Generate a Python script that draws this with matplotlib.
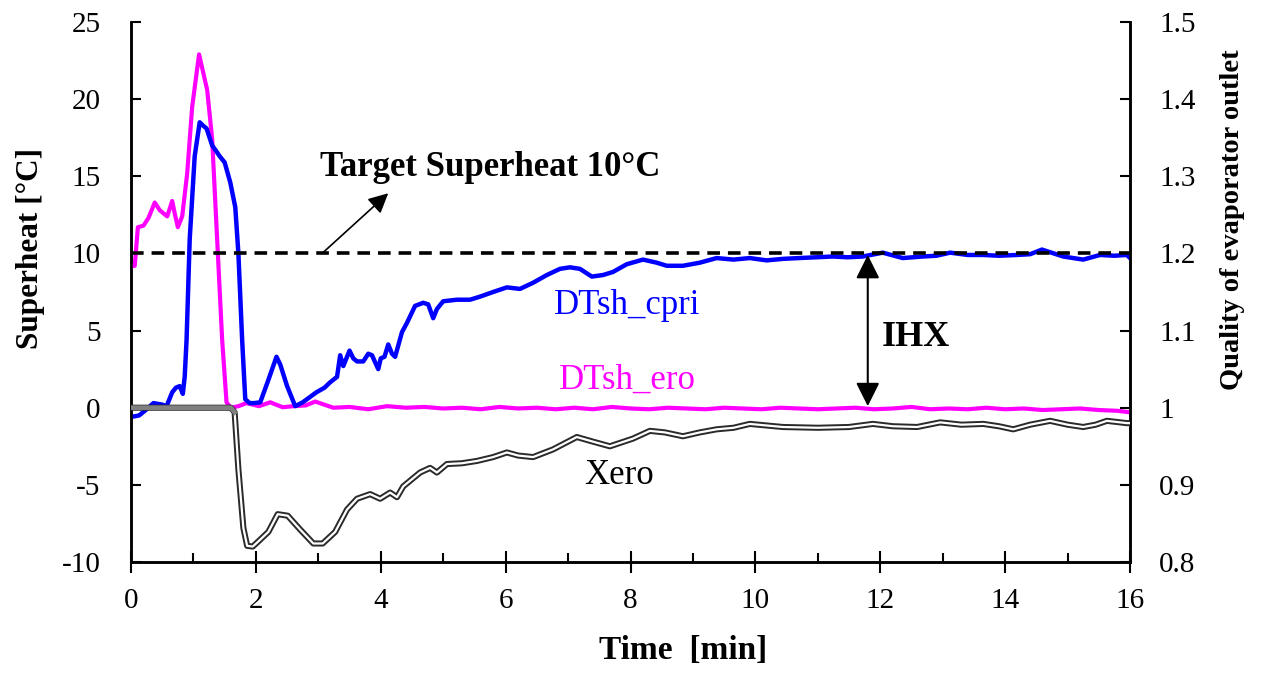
import matplotlib
matplotlib.use('Agg')
import matplotlib.pyplot as plt
from matplotlib.ticker import MultipleLocator, FuncFormatter

plt.rcParams['font.family'] = ['Liberation Serif', 'DejaVu Serif']
plt.rcParams['axes.unicode_minus'] = False

# DTsh_cpri (blue) - time [min], superheat [degC]
cpri_t = [0, 0.13, 0.25, 0.36, 0.5, 0.57, 0.66, 0.72, 0.78, 0.83,
          0.86, 0.89, 0.94, 1.02, 1.1, 1.15, 1.21, 1.3, 1.37, 1.42,
          1.5, 1.59, 1.67, 1.72, 1.78, 1.83, 1.9, 1.97, 2.07, 2.2,
          2.33, 2.39, 2.5, 2.63, 2.75, 2.97, 3.1, 3.19, 3.3, 3.35,
          3.4, 3.5, 3.56, 3.62, 3.72, 3.8, 3.86, 3.96, 4.0, 4.06,
          4.12, 4.18, 4.23, 4.34, 4.42, 4.55, 4.68, 4.76, 4.84, 4.9,
          5.0, 5.22, 5.43, 5.59, 5.8, 6.02, 6.23, 6.44, 6.66, 6.87,
          7.03, 7.19, 7.38, 7.56, 7.72, 7.94, 8.2, 8.42, 8.58, 8.84,
          9.11, 9.38, 9.65, 9.91, 10.18, 10.45, 10.7, 10.97, 11.24, 11.48,
          11.72, 12.04, 12.36, 12.68, 12.9, 13.12, 13.4, 13.65, 13.9, 14.19,
          14.4, 14.59, 14.93, 15.25, 15.52, 15.75, 15.95, 16.0]
cpri_val = [-0.6, -0.5, -0.1, 0.3, 0.2, 0.1, 1.0, 1.3, 1.4, 0.9,
            2.0, 4.4, 10.9, 16.3, 18.5, 18.3, 18.1, 17.0, 16.6, 16.3,
            15.9, 14.6, 13.0, 10.0, 4.4, 0.55, 0.3, 0.3, 0.35, 1.8,
            3.3, 2.8, 1.4, 0.1, 0.35, 1.0, 1.3, 1.65, 2.0, 3.4,
            2.7, 3.7, 3.2, 3.0, 3.0, 3.5, 3.4, 2.5, 3.2, 3.3,
            4.1, 3.5, 3.3, 4.9, 5.5, 6.6, 6.8, 6.7, 5.8, 6.4,
            6.9, 7.0, 7.0, 7.2, 7.5, 7.8, 7.7, 8.1, 8.6, 9.0,
            9.1, 9.0, 8.5, 8.6, 8.8, 9.3, 9.6, 9.4, 9.2, 9.2,
            9.4, 9.7, 9.6, 9.7, 9.55, 9.65, 9.7, 9.75, 9.8, 9.75,
            9.8, 10.05, 9.7, 9.8, 9.85, 10.05, 9.9, 9.9, 9.85, 9.9,
            9.95, 10.25, 9.8, 9.6, 9.9, 9.85, 9.9, 9.7]

# DTsh_ero (magenta)
ero_t = [0, 0.06, 0.11, 0.2, 0.28, 0.38, 0.46, 0.58, 0.66, 0.7,
         0.75, 0.82, 0.9, 0.98, 1.09, 1.22, 1.3, 1.38, 1.46, 1.53,
         1.6, 1.72, 1.85, 2.05, 2.23, 2.43, 2.6, 2.8, 2.95, 3.24,
         3.5, 3.8, 4.1, 4.4, 4.7, 5.0, 5.3, 5.6, 5.9, 6.2,
         6.5, 6.8, 7.1, 7.4, 7.7, 8.0, 8.3, 8.6, 8.9, 9.2,
         9.5, 9.8, 10.1, 10.4, 10.7, 11.0, 11.3, 11.6, 11.9, 12.2,
         12.5, 12.8, 13.1, 13.4, 13.7, 14.0, 14.3, 14.6, 14.9, 15.2,
         15.5, 15.8, 16.0]
ero_val = [9.15, 9.2, 11.7, 11.8, 12.3, 13.3, 12.8, 12.4, 13.4, 12.6,
           11.7, 12.4, 15.2, 19.5, 22.9, 20.6, 17.4, 10.9, 4.4, 0.35,
           0.0, 0.1, 0.3, 0.1, 0.35, 0.03, 0.1, 0.15, 0.4, 0.0,
           0.05, -0.1, 0.1, 0.0, 0.05, -0.05, 0.0, -0.1, 0.05, -0.05,
           0.0, -0.1, 0.0, -0.1, 0.05, -0.05, -0.1, 0.0, -0.05, -0.1,
           0.0, -0.05, -0.1, 0.0, -0.05, -0.1, -0.05, 0.0, -0.1, -0.05,
           0.05, -0.1, -0.05, -0.1, 0.0, -0.1, -0.05, -0.15, -0.1, -0.05,
           -0.15, -0.2, -0.3]

# Xero (quality of evaporator outlet, right axis)
xero_t = [0, 1.6, 1.66, 1.72, 1.8, 1.86, 1.95, 2.03, 2.2, 2.35,
          2.51, 2.71, 2.92, 3.07, 3.27, 3.46, 3.62, 3.83, 3.99, 4.15,
          4.26, 4.36, 4.63, 4.79, 4.9, 5.06, 5.3, 5.54, 5.8, 6.02,
          6.2, 6.44, 6.76, 7.14, 7.4, 7.67, 8.04, 8.31, 8.55, 8.84,
          9.11, 9.38, 9.65, 9.91, 10.44, 11.0, 11.5, 11.88, 12.2, 12.59,
          12.96, 13.3, 13.65, 13.9, 14.13, 14.4, 14.72, 15.0, 15.25, 15.45,
          15.63, 15.95, 16.0]
xero_val = [1.0, 1.0, 0.994, 0.92, 0.844, 0.821, 0.82, 0.826, 0.839, 0.862,
            0.86, 0.842, 0.824, 0.824, 0.839, 0.868, 0.882, 0.888, 0.882, 0.89,
            0.884, 0.898, 0.916, 0.922, 0.916, 0.927, 0.928, 0.931, 0.936, 0.942,
            0.938, 0.936, 0.946, 0.962, 0.956, 0.95, 0.96, 0.97, 0.968, 0.963,
            0.968, 0.972, 0.974, 0.979, 0.975, 0.974, 0.975, 0.979, 0.976, 0.975,
            0.981, 0.978, 0.979, 0.976, 0.972, 0.978, 0.983, 0.978, 0.975, 0.978,
            0.983, 0.98, 0.98]

target_sh = 10
time_ticks = [0, 2, 4, 6, 8, 10, 12, 14, 16]

fig = plt.figure(figsize=(12.75, 6.77), dpi=100)
ax = fig.add_axes([131 / 1275, 1 - 562 / 677, 999 / 1275, 540 / 677])
ax2 = ax.twinx()

ax.plot(ero_t, ero_val, color='#FF00FF', lw=3, zorder=3)
ax.plot(cpri_t, cpri_val, color='#0000FF', lw=3.2, zorder=4)
ax.axhline(target_sh, color='black', lw=2.6, dashes=(3.5, 2.2), zorder=5)

# Xero as a double line (dark outline, white core); flat start drawn solid gray
ax2.plot(xero_t, xero_val, color='#2a2a2a', lw=4.4, zorder=3)
ax2.plot(xero_t, xero_val, color='white', lw=1.6, zorder=4)
ax2.plot(xero_t[:3], xero_val[:3], color='#808080', lw=3.4, zorder=5)

ax.set_xlim(0, 16)
ax.set_ylim(-10, 25)
ax2.set_ylim(0.8, 1.5)
ax.set_xticks(time_ticks)
ax.xaxis.set_minor_locator(MultipleLocator(1))
ax.yaxis.set_major_locator(MultipleLocator(5))
ax2.yaxis.set_major_locator(MultipleLocator(0.1))
ax2.yaxis.set_major_formatter(FuncFormatter(lambda v, p: f'{v:g}'))

for a in (ax, ax2):
    a.spines['top'].set_visible(False)
    for s in ('left', 'right', 'bottom'):
        a.spines[s].set_linewidth(1.8)

ax.tick_params(axis='y', direction='in', length=7, width=1.5, labelsize=21, pad=22)
ax.tick_params(axis='x', which='major', direction='inout', length=16, width=1.5,
               labelsize=21, pad=11)
ax.tick_params(axis='x', which='minor', direction='in', length=6.5, width=1.5)
ax2.tick_params(axis='y', direction='in', length=7, width=1.5, labelsize=21, pad=21)

ax.set_xlabel('Time  [min]', fontsize=24, fontweight='bold')
ax.xaxis.set_label_coords(0.553, -0.135)
ax.set_ylabel('Superheat [°C]', fontsize=22.5, fontweight='bold', va='center', ha='center')
ax.yaxis.set_label_coords(-0.101, 0.581)
ax2.set_ylabel('Quality of evaporator outlet', fontsize=20.5, fontweight='bold',
               rotation=90, va='center', ha='center')
ax2.yaxis.set_label_coords(1.103, 0.634)

ax.text(5.75, 15.0, 'Target Superheat 10°C', fontsize=25, fontweight='bold',
        ha='center', va='baseline')
ax.annotate('', xy=(4.12, 13.9), xytext=(3.06, 10),
            arrowprops=dict(arrowstyle='-|>', color='black', lw=1.2,
                            mutation_scale=30, shrinkA=0, shrinkB=0), zorder=6)
ax.annotate('', xy=(11.8, 9.9), xytext=(11.8, 0.1),
            arrowprops=dict(arrowstyle='<|-|>', color='black', lw=1.5,
                            mutation_scale=36, shrinkA=0, shrinkB=0), zorder=6)
ax.text(12.57, 3.98, 'IHX', fontsize=26, fontweight='bold', ha='center', va='baseline')
ax.text(7.95, 6.05, 'DTsh_cpri', fontsize=25, color='#0000FF', ha='center', va='baseline')
ax.text(7.95, 1.2, 'DTsh_ero', fontsize=25, color='#FF00FF', ha='center', va='baseline')
ax.text(7.82, -4.95, 'Xero', fontsize=25, color='black', ha='center', va='baseline')

fig.savefig('out.png', dpi=100)
